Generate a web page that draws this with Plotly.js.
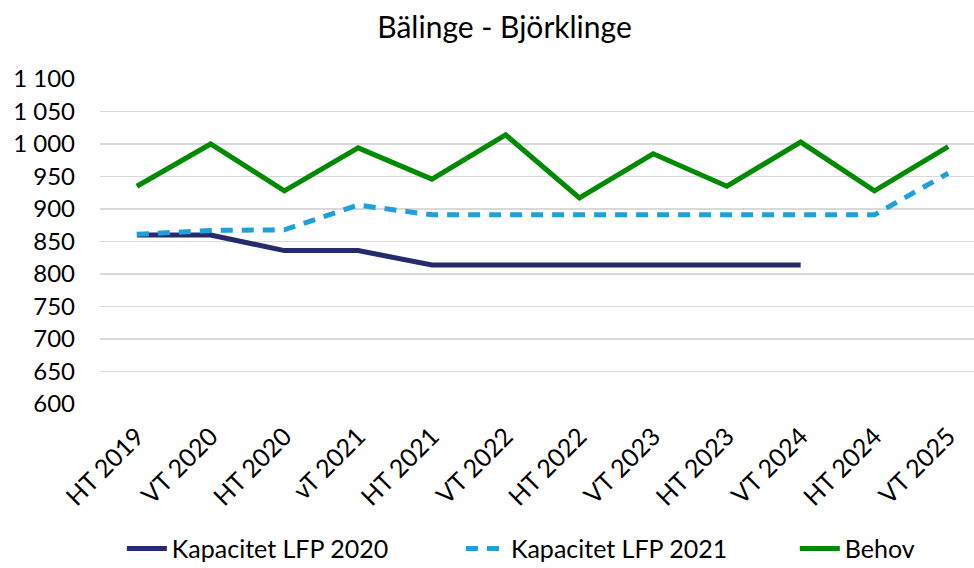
<!DOCTYPE html>
<html>
<head>
<meta charset="utf-8">
<script src="https://cdn.plot.ly/plotly-3.0.1.min.js"></script>
<style>html,body{margin:0;padding:0;background:#fff;}#chart{width:974px;height:568px;}</style>
</head>
<body>
<div id="chart"></div>
<script>
const categories = ["HT 2019","VT 2020","HT 2020","vT 2021","HT 2021","VT 2022","HT 2022","VT 2023","HT 2023","VT 2024","HT 2024","VT 2025"];
const kapacitet2020 = [860, 860, 836, 836, 814, 814, 814, 814, 814, 814, null, null];
const kapacitet2021 = [861, 867, 868, 906, 891, 891, 891, 891, 891, 891, 891, 955];
const behov = [935, 1000, 928, 994, 946, 1014, 917, 985, 935, 1003, 928, 996];
const seriesNames = ["Kapacitet LFP 2020", "Kapacitet LFP 2021", "Behov"];

const font = "Lato, 'Open Sans', sans-serif";
const traces = [
  {x: categories, y: kapacitet2020, name: seriesNames[0], type: "scatter", mode: "lines",
   line: {color: "#262B6B", width: 5}, connectgaps: false, legend: "legend"},
  {x: categories, y: kapacitet2021, name: seriesNames[1], type: "scatter", mode: "lines",
   line: {color: "#1EA0DC", width: 5, dash: "12px,9px"}, legend: "legend2"},
  {x: categories, y: behov, name: seriesNames[2], type: "scatter", mode: "lines",
   line: {color: "#008A00", width: 5}, legend: "legend3"}
];
function leg(x) {
  return {orientation: "h", x: x, xanchor: "left", yref: "container", y: 0.034, yanchor: "middle",
          font: {family: font, size: 25, color: "#000"}, itemwidth: 40, bgcolor: "rgba(0,0,0,0)"};
}
const layout = {
  width: 974, height: 568,
  margin: {l: 100, r: 0, t: 79, b: 164},
  paper_bgcolor: "#fff", plot_bgcolor: "#fff",
  separators: ", ",
  font: {family: font, color: "#000", size: 24},
  title: {text: "Bälinge - Björklinge", font: {family: font, size: 30, color: "#000"}, x: 0.518, xanchor: "center", y: 0.952, yanchor: "middle"},
  xaxis: {type: "category", range: [-0.5, 11.35], tickangle: -45, showgrid: false, zeroline: false, automargin: false,
          showline: false, ticks: "", ticklabelstandoff: 12, tickfont: {family: font, size: 25, color: "#000"}, fixedrange: true},
  yaxis: {range: [600, 1100], dtick: 50, tick0: 600, tickformat: ",d", showgrid: true, gridcolor: "#D9D9D9", gridwidth: 1.3,
          zeroline: false, showline: false, ticks: "", ticklabelstandoff: 24, automargin: false,
          tickfont: {family: font, size: 24, color: "#000"}, fixedrange: true},
  showlegend: true,
  legend: leg(0.025),
  legend2: leg(0.413),
  legend3: leg(0.795)
};
Plotly.newPlot("chart", traces, layout, {displayModeBar: false, staticPlot: true});
</script>
</body>
</html>
